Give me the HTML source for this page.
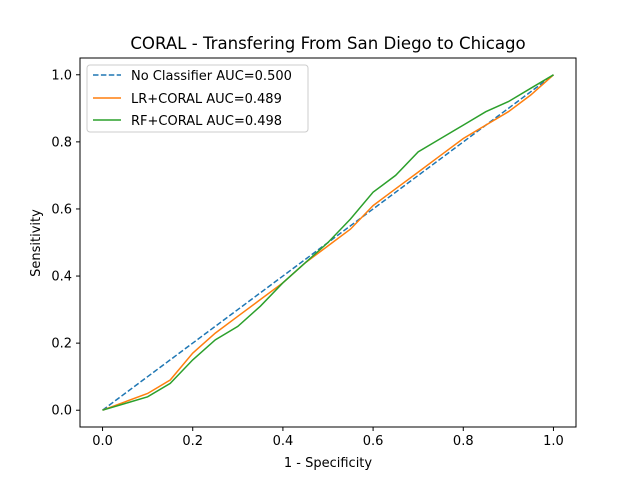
<!DOCTYPE html>
<html><head><meta charset="utf-8"><style>
body{margin:0;background:#fff;}
svg{display:block;font-family:"DejaVu Sans","Liberation Sans",sans-serif;}
</style></head><body>
<svg id="chart" width="640" height="480" xmlns="http://www.w3.org/2000/svg">
<rect width="640" height="480" fill="#fff"/>
<text x="328" y="49" font-size="16.6" text-anchor="middle">CORAL - Transfering From San Diego to Chicago</text>
<g id="plot"></g>
<rect x="80" y="58" width="496" height="369" fill="none" stroke="#000" stroke-width="1"/>
<g id="axes"></g>
<text x="328" y="467" font-size="13" text-anchor="middle">1 - Specificity</text>
<text x="40" y="243" font-size="13" text-anchor="middle" transform="rotate(-90 40 243)">Sensitivity</text>
<g>
<rect x="87" y="65" width="221" height="67" rx="3" fill="#fff" stroke="#ccc"/>
<line x1="93" y1="75" x2="121" y2="75" stroke="#1f77b4" stroke-width="1.5" stroke-dasharray="5.5,2.4"/>
<text x="131" y="80" font-size="13">No Classifier AUC=0.500</text>
<line x1="93" y1="98" x2="121" y2="98" stroke="#ff7f0e" stroke-width="1.5"/>
<text x="131" y="103" font-size="13">LR+CORAL AUC=0.489</text>
<line x1="93" y1="120" x2="121" y2="120" stroke="#2ca02c" stroke-width="1.5"/>
<text x="131" y="125" font-size="13">RF+CORAL AUC=0.498</text>
</g>
</svg>
<script>
const fprGrid = [0,0.05,0.1,0.15,0.2,0.25,0.3,0.35,0.4,0.45,0.5,0.55,0.6,0.65,0.7,0.75,0.8,0.85,0.9,0.95,1];
const lrTpr = [0,0.025,0.05,0.09,0.17,0.23,0.28,0.33,0.38,0.44,0.49,0.54,0.61,0.66,0.71,0.76,0.81,0.85,0.89,0.94,1];
const rfTpr = [0,0.02,0.04,0.08,0.15,0.21,0.25,0.31,0.38,0.44,0.5,0.57,0.65,0.70,0.77,0.81,0.85,0.89,0.92,0.96,1];
const baseX = [0,1];
const baseY = [0,1];
const tickVals = [0,0.2,0.4,0.6,0.8,1.0];
const tickLabels = ["0.0","0.2","0.4","0.6","0.8","1.0"];
const NS="http://www.w3.org/2000/svg";
const xs=v=>80+(v+0.05)/1.1*496;
const ys=v=>427-(v+0.05)/1.1*369;
const plot=document.getElementById('plot'), axes=document.getElementById('axes');
function line(xa,ya,color,dash,name){
  const p=document.createElementNS(NS,'path');
  p.setAttribute('d',xa.map((x,i)=>(i?'L':'M')+xs(x).toFixed(1)+','+ys(ya[i]).toFixed(1)).join(''));
  p.setAttribute('fill','none');p.setAttribute('stroke',color);p.setAttribute('stroke-width','1.5');
  if(dash)p.setAttribute('stroke-dasharray',dash);
  
  
  plot.appendChild(p);
}
line(baseX,baseY,'#1f77b4','5.5,2.4','no-classifier-line');
line(fprGrid,lrTpr,'#ff7f0e',null,'lr-coral-line');
line(fprGrid,rfTpr,'#2ca02c',null,'rf-coral-line');
tickVals.forEach((v,i)=>{
  const tx=document.createElementNS(NS,'line');
  tx.setAttribute('x1',xs(v));tx.setAttribute('x2',xs(v));tx.setAttribute('y1',427);tx.setAttribute('y2',431);tx.setAttribute('stroke','#000');
  
  
  axes.appendChild(tx);
  const lx=document.createElementNS(NS,'text');
  lx.setAttribute('x',xs(v));lx.setAttribute('y',445);lx.setAttribute('font-size','13');lx.setAttribute('text-anchor','middle');
  lx.textContent=tickLabels[i];
  
  
  axes.appendChild(lx);
  const ty=document.createElementNS(NS,'line');
  ty.setAttribute('x1',76);ty.setAttribute('x2',80);ty.setAttribute('y1',ys(v));ty.setAttribute('y2',ys(v));ty.setAttribute('stroke','#000');
  
  
  axes.appendChild(ty);
  const ly=document.createElementNS(NS,'text');
  ly.setAttribute('x',72);ly.setAttribute('y',ys(v)+4.5);ly.setAttribute('font-size','13');ly.setAttribute('text-anchor','end');
  ly.textContent=tickLabels[i];
  
  
  axes.appendChild(ly);
});
</script>
</body></html>
